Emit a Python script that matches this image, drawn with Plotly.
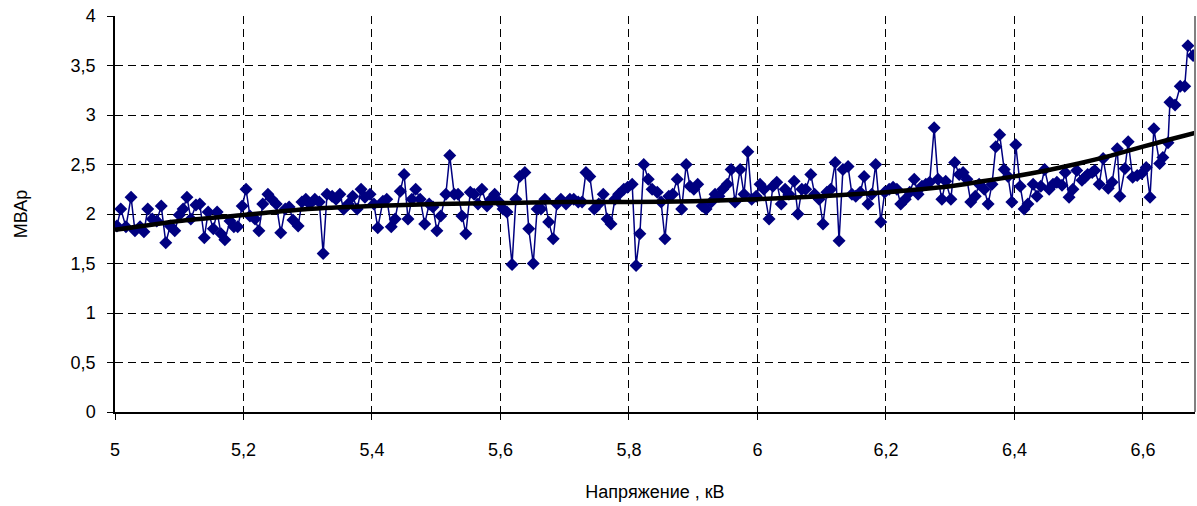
import plotly.graph_objects as go

# Measured reactive power vs. bus voltage
volt = [5.003, 5.009, 5.017, 5.025, 5.031, 5.039, 5.045, 5.051, 5.058, 5.065,
        5.072, 5.079, 5.086, 5.093, 5.100, 5.106, 5.112, 5.118, 5.126, 5.132,
        5.139, 5.145, 5.153, 5.159, 5.165, 5.171, 5.179, 5.185, 5.191, 5.198,
        5.204, 5.210, 5.218, 5.224, 5.230, 5.238, 5.244, 5.251, 5.258, 5.265,
        5.271, 5.277, 5.285, 5.291, 5.297, 5.303, 5.311, 5.318, 5.324, 5.330,
        5.338, 5.344, 5.350, 5.356, 5.363, 5.370, 5.377, 5.383, 5.389, 5.397,
        5.403, 5.409, 5.417, 5.423, 5.430, 5.436, 5.444, 5.450, 5.456, 5.462,
        5.468, 5.475, 5.482, 5.489, 5.495, 5.501, 5.507, 5.515, 5.521, 5.528,
        5.534, 5.540, 5.546, 5.553, 5.559, 5.565, 5.571, 5.579, 5.585, 5.591,
        5.598, 5.604, 5.610, 5.618, 5.624, 5.630, 5.638, 5.644, 5.651, 5.657,
        5.663, 5.669, 5.675, 5.682, 5.688, 5.694, 5.702, 5.708, 5.714, 5.721,
        5.727, 5.733, 5.739, 5.746, 5.753, 5.760, 5.766, 5.772, 5.778, 5.784,
        5.792, 5.798, 5.805, 5.811, 5.817, 5.823, 5.830, 5.836, 5.844, 5.850,
        5.856, 5.862, 5.868, 5.875, 5.882, 5.889, 5.895, 5.901, 5.907, 5.914,
        5.920, 5.928, 5.934, 5.940, 5.946, 5.953, 5.959, 5.965, 5.973, 5.979,
        5.985, 5.991, 5.998, 6.004, 6.010, 6.018, 6.024, 6.030, 6.037, 6.043,
        6.049, 6.057, 6.063, 6.069, 6.075, 6.083, 6.089, 6.096, 6.102, 6.108,
        6.114, 6.121, 6.127, 6.133, 6.141, 6.147, 6.153, 6.160, 6.166, 6.172,
        6.178, 6.184, 6.192, 6.198, 6.205, 6.211, 6.217, 6.223, 6.230, 6.237,
        6.244, 6.250, 6.256, 6.262, 6.268, 6.275, 6.281, 6.287, 6.293, 6.301,
        6.307, 6.314, 6.320, 6.326, 6.332, 6.339, 6.345, 6.353, 6.359, 6.365,
        6.371, 6.377, 6.384, 6.390, 6.396, 6.402, 6.409, 6.415, 6.421, 6.429,
        6.435, 6.441, 6.447, 6.454, 6.460, 6.466, 6.474, 6.479, 6.485, 6.491,
        6.497, 6.505, 6.510, 6.514, 6.521, 6.525, 6.532, 6.538, 6.546, 6.552,
        6.560, 6.564, 6.572, 6.577, 6.584, 6.591, 6.598, 6.605, 6.611, 6.617,
        6.626, 6.631, 6.639, 6.642, 6.650, 6.658, 6.665, 6.670, 6.678]

mvar = [1.88, 2.05, 1.87, 2.17, 1.83, 1.87, 1.82, 2.05, 1.95, 1.93,
        2.08, 1.71, 1.88, 1.83, 1.99, 2.05, 2.17, 1.95, 2.09, 2.10,
        1.76, 2.02, 1.85, 2.02, 1.80, 1.74, 1.93, 1.87, 1.87, 2.08,
        2.25, 1.98, 1.95, 1.83, 2.10, 2.20, 2.15, 2.10, 1.81, 2.05,
        2.07, 1.94, 1.88, 2.12, 2.15, 2.10, 2.15, 2.12, 1.60, 2.20,
        2.18, 2.15, 2.20, 2.05, 2.10, 2.18, 2.05, 2.25, 2.17, 2.20,
        2.10, 1.86, 2.13, 2.15, 1.87, 1.95, 2.23, 2.40, 1.95, 2.15,
        2.25, 2.15, 1.90, 2.10, 2.07, 1.83, 1.98, 2.20, 2.59, 2.20,
        2.20, 1.98, 1.80, 2.22, 2.20, 2.10, 2.25, 2.08, 2.15, 2.20,
        2.12, 2.05, 2.02, 1.49, 2.15, 2.38, 2.42, 1.85, 1.50, 2.05,
        2.05, 2.15, 1.92, 1.75, 2.10, 2.15, 2.10, 2.15, 2.15, 2.12,
        2.12, 2.42, 2.38, 2.05, 2.10, 2.20, 1.95, 1.90, 2.15, 2.20,
        2.25, 2.27, 2.30, 1.48, 1.80, 2.50, 2.35, 2.25, 2.22, 2.12,
        1.75, 2.18, 2.20, 2.35, 2.05, 2.50, 2.28, 2.25, 2.30, 2.08,
        2.05, 2.12, 2.20, 2.18, 2.25, 2.30, 2.45, 2.12, 2.45, 2.20,
        2.63, 2.15, 2.18, 2.30, 2.25, 1.95, 2.28, 2.32, 2.10, 2.25,
        2.20, 2.33, 2.00, 2.25, 2.25, 2.40, 2.20, 2.15, 1.90, 2.22,
        2.25, 2.52, 1.73, 2.45, 2.48, 2.20, 2.18, 2.22, 2.38, 2.10,
        2.20, 2.50, 1.92, 2.22, 2.25, 2.27, 2.25, 2.10, 2.15, 2.22,
        2.35, 2.20, 2.28, 2.30, 2.32, 2.87, 2.35, 2.15, 2.33, 2.15,
        2.52, 2.40, 2.42, 2.35, 2.12, 2.18, 2.30, 2.25, 2.10, 2.30,
        2.68, 2.80, 2.45, 2.38, 2.12, 2.70, 2.28, 2.05, 2.10, 2.30,
        2.18, 2.28, 2.45, 2.25, 2.30, 2.32, 2.29, 2.42, 2.17, 2.25,
        2.44, 2.34, 2.37, 2.40, 2.42, 2.44, 2.30, 2.56, 2.26, 2.32,
        2.66, 2.18, 2.46, 2.73, 2.37, 2.39, 2.41, 2.47, 2.17, 2.86,
        2.51, 2.57, 2.72, 3.13, 3.10, 3.29, 3.29, 3.70, 3.60]

# Polynomial trend of the measurements
trend_x = [5.0, 5.1, 5.2, 5.3, 5.4, 5.5, 5.6, 5.7, 5.8, 5.9,
           6.0, 6.1, 6.2, 6.3, 6.35, 6.4, 6.45, 6.5, 6.55, 6.6, 6.64, 6.681]
trend_y = [1.84, 1.93, 1.99, 2.05, 2.08, 2.10, 2.11, 2.12, 2.12, 2.13,
           2.15, 2.18, 2.22, 2.28, 2.33, 2.38, 2.44, 2.51, 2.59, 2.68, 2.75, 2.82]

x_ticks = [5.0, 5.2, 5.4, 5.6, 5.8, 6.0, 6.2, 6.4, 6.6]
x_labels = ["5", "5,2", "5,4", "5,6", "5,8", "6", "6,2", "6,4", "6,6"]
y_ticks = [0, 0.5, 1, 1.5, 2, 2.5, 3, 3.5, 4]
y_labels = ["0", "0,5", "1", "1,5", "2", "2,5", "3", "3,5", "4"]

FONT = "Liberation Sans, Arial, sans-serif"

fig = go.Figure()
fig.add_trace(go.Scatter(
    x=volt, y=mvar, mode="lines+markers",
    line=dict(color="#000080", width=1.5),
    marker=dict(symbol="diamond", size=10, color="#000080"),
    showlegend=False,
))
fig.add_trace(go.Scatter(
    x=trend_x, y=trend_y, mode="lines",
    line=dict(color="black", width=4.5, shape="spline", smoothing=0.6),
    showlegend=False,
))

fig.update_layout(
    width=1197, height=506,
    margin=dict(l=115, r=2, t=16, b=94),
    paper_bgcolor="white", plot_bgcolor="white",
    font=dict(family=FONT, size=18, color="black"),
)
fig.update_xaxes(
    range=[5.0, 6.681], tickvals=x_ticks, ticktext=x_labels,
    tickfont=dict(family=FONT, size=18),
    showgrid=True, gridcolor="black", griddash="8px,5px", gridwidth=1,
    showline=True, linecolor="black", linewidth=1.5,
    ticks="outside", ticklen=6, tickcolor="black",
    ticklabelstandoff=15, zeroline=False,
    title=dict(text="Напряжение , кВ", standoff=26,
               font=dict(family=FONT, size=18)),
)
fig.update_yaxes(
    range=[0, 4], tickvals=y_ticks, ticktext=y_labels,
    tickfont=dict(family=FONT, size=18),
    showgrid=True, gridcolor="black", griddash="8px,5px", gridwidth=1,
    showline=True, linecolor="black", linewidth=1.5,
    ticks="outside", ticklen=6, tickcolor="black",
    ticklabelstandoff=8, zeroline=False,
    title=dict(text="МВАр", standoff=38, font=dict(family=FONT, size=18)),
)
# grey right edge of the plotting area
fig.add_shape(type="line", xref="paper", yref="paper", x0=1, x1=1, y0=0, y1=1,
              line=dict(color="#808080", width=2))

fig.write_html("out.html")
